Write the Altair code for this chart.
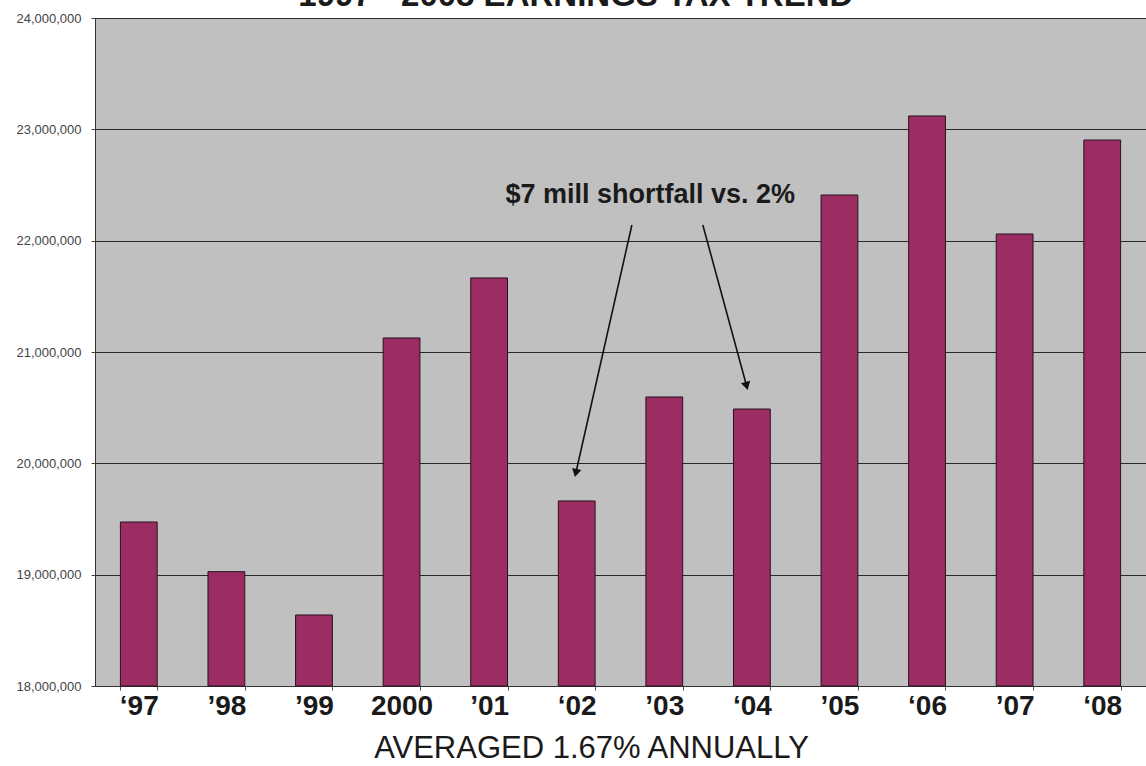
import altair as alt
import pandas as pd

# ---- data -------------------------------------------------------------
years = ["\u201897", "\u201998", "\u201999", "2000", "\u201901", "\u201802",
         "\u201903", "\u201804", "\u201905", "\u201806", "\u201907", "\u201808"]
earnings = [19473000, 19027000, 18638000, 21126000, 21665000, 19662000,
            20596000, 20488000, 22410000, 23120000, 22060000, 22904000]
y_ticks = [18000000, 19000000, 20000000, 21000000, 22000000, 23000000, 24000000]
y_base = 18000000

title_text = ["1997 - 2008 EARNINGS TAX TREND"]
title_pos = [5.49]          # category-index units
title_val = [24110000]

note_text = ["$7 mill shortfall vs. 2%"]
note_pos = [6.34]
note_val = [22338000]

arrow_x1 = [6.13, 6.94]
arrow_y1 = [22141000, 22141000]
arrow_x2 = [5.49, 7.44]
arrow_y2 = [19913000, 20695000]
arrow_angle = [192.7, 164.9]

subtitle = "AVERAGED 1.67% ANNUALLY"

# ---- tables -----------------------------------------------------------
bars_df = pd.DataFrame({"year": years, "value": earnings})
arrows_df = pd.DataFrame({"x1": arrow_x1, "y1": arrow_y1, "x2": arrow_x2,
                          "y2": arrow_y2, "angle": arrow_angle})
note_df = pd.DataFrame({"t": note_text, "x": note_pos, "y": note_val})
title_df = pd.DataFrame({"t": title_text, "x": title_pos, "y": title_val})

SANS = "Liberation Sans, Arial, Helvetica, sans-serif"

yscale = alt.Scale(domain=[18000000, 24000000], nice=False, zero=False)
qx = alt.Scale(domain=[0, 12], nice=False, zero=False)

bars = alt.Chart(bars_df).mark_bar(
    color="#9B2D63", stroke="#2a1020", strokeWidth=1
).encode(
    x=alt.X("year:N", sort=years,
            scale=alt.Scale(paddingInner=0.58, paddingOuter=0.29),
            axis=alt.Axis(title=subtitle, labelAngle=0, labelFont=SANS,
                          labelFontWeight="bold", labelFontSize=28, labelColor="#1a1a1a",
                          labelPadding=2, tickSize=4, tickBand="extent",
                          labelOverlap=False,
                          tickColor="#555", domainColor="#333", domainWidth=1,
                          titleFont=SANS, titleFontSize=31,
                          titleFontWeight="normal", titleColor="#1a1a1a",
                          titleX=496, titleY=71, titleBaseline="alphabetic",
                          titleAnchor="middle")),
    y=alt.Y("value:Q", scale=yscale,
            axis=alt.Axis(title=None, values=y_ticks, format=",.0f",
                          labelFont=SANS, labelFontSize=13,
                          labelColor="#444", labelPadding=10, tickSize=4,
                          tickColor="#444", domainColor="#333",
                          grid=True, gridColor="#2a2a2a", gridWidth=1)),
    y2=alt.datum(y_base),
)

arrow_lines = alt.Chart(arrows_df).mark_rule(color="#111", strokeWidth=1.6).encode(
    x=alt.X("x1:Q", scale=qx, axis=None),
    y=alt.Y("y1:Q", scale=yscale),
    x2="x2:Q", y2="y2:Q",
)

arrow_heads = alt.Chart(arrows_df).mark_point(
    shape="triangle-up", filled=True, color="#111", opacity=1, size=90
).encode(
    x=alt.X("x2:Q", scale=qx, axis=None),
    y=alt.Y("y2:Q", scale=yscale),
    angle=alt.Angle("angle:Q", scale=None),
)

note = alt.Chart(note_df).mark_text(
    font=SANS, fontSize=27, fontWeight="bold", color="#1a1a1a",
    align="center", baseline="alphabetic"
).encode(
    x=alt.X("x:Q", scale=qx, axis=None),
    y=alt.Y("y:Q", scale=yscale),
    text="t:N",
)

top_title = alt.Chart(title_df).mark_text(
    font=SANS, fontSize=33, fontWeight="bold", color="#1a1a1a",
    align="center", baseline="alphabetic"
).encode(
    x=alt.X("x:Q", scale=qx, axis=None),
    y=alt.Y("y:Q", scale=yscale),
    text="t:N",
)

chart = alt.layer(bars, arrow_lines, arrow_heads, note, top_title).resolve_scale(
    x="independent"
).properties(
    width=1051, height=668,
    padding={"left": 95, "top": 18, "right": 0, "bottom": 80},
    autosize=alt.AutoSizeParams(type="none"),
    background="white",
).configure_view(fill="#C0C0C0", stroke="#333", strokeWidth=1)

chart.save("out.html", embed_options={"renderer": "svg", "actions": False})
